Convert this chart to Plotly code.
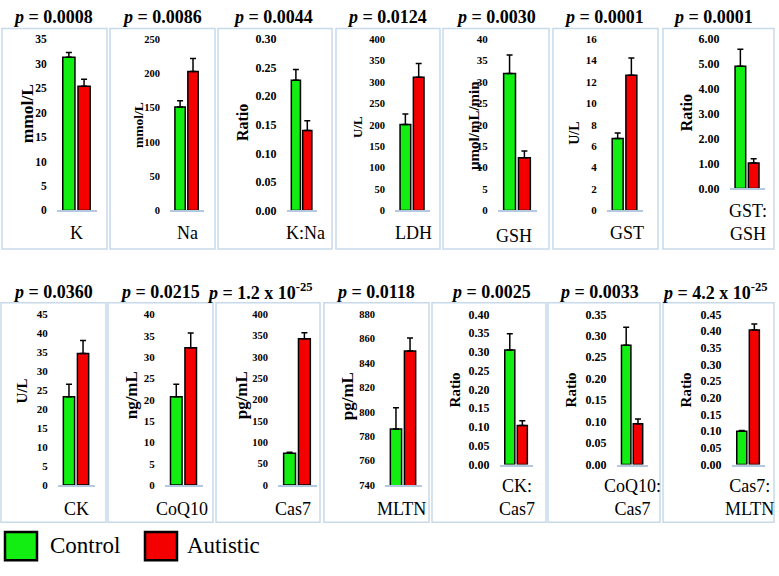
import plotly.graph_objects as go

W, H = 779, 576

# ---------------- data ----------------
labels = ["K", "Na", "K:Na", "LDH", "GSH", "GST", "GST:<br>GSH",
          "CK", "CoQ10", "Cas7", "MLTN", "CK:<br>Cas7", "CoQ10:<br>Cas7", "Cas7:<br>MLTN"]
units = ["mmol/L", "mmol/L", "Ratio", "U/L", "µmol/mL/min", "U/L", "Ratio",
         "U/L", "ng/mL", "pg/mL", "pg/mL", "Ratio", "Ratio", "Ratio"]
p_values = ["0.0008", "0.0086", "0.0044", "0.0124", "0.0030", "0.0001", "0.0001",
            "0.0360", "0.0215", "1.2 x 10<sup>-25</sup>", "0.0118", "0.0025", "0.0033",
            "4.2 x 10<sup>-25</sup>"]
control_mean = [31.3, 151, 0.228, 201, 32.0, 6.73, 4.91, 23.3, 20.7, 74.7, 786, 0.305, 0.278, 0.100]
control_err = [1.0, 9, 0.019, 24, 4.3, 0.51, 0.69, 3.3, 2.9, 2.3, 17.5, 0.043, 0.042, 0.002]
autistic_mean = [25.4, 203, 0.140, 311, 12.3, 12.64, 1.02, 34.7, 32.2, 342.9, 850, 0.104, 0.095, 0.403]
autistic_err = [1.4, 19, 0.017, 32, 1.6, 1.6, 0.17, 3.4, 3.4, 13.7, 10.7, 0.013, 0.011, 0.018]
y_min = [0, 0, 0, 0, 0, 0, 0, 0, 0, 0, 740, 0, 0, 0]
y_max = [35, 250, 0.30, 400, 40, 16, 6, 45, 40, 400, 880, 0.40, 0.35, 0.45]
y_dtick = [5, 50, 0.05, 50, 5, 2, 1, 5, 5, 50, 20, 0.05, 0.05, 0.05]
y_format = ["d", "d", ".2f", "d", "d", "d", ".2f", "d", "d", "d", "d", ".2f", ".2f", ".2f"]
groups = ["Control", "Autistic"]

# ---------------- layout geometry (pixels) ----------------
plot_x = [(57, 97), (170, 204), (287, 317), (395, 430), (498, 537), (607, 643), (730, 765),
          (58, 95), (165, 203), (278, 317), (385, 422), (500, 533), (617, 648), (732, 765)]
plot_y = [(33, 208.5)] * 6 + [(33, 186)] + [(315, 490)] * 4 + [(315, 469)] * 3
tick_size = [11.5, 10.5, 12, 10.5, 11, 11, 12, 11, 11, 10.5, 10.5, 12, 12, 12]
title_pos = [(27, 110), (138, 121), (242, 119), (357, 123), (474, 122), (575, 130), (686, 109),
             (22, 394), (131, 398), (241, 398), (347, 399), (455, 393), (571, 393), (686, 393)]
title_size = [17.5, 13.5, 16, 13, 15, 14, 16, 15, 17, 17, 17, 15, 15, 15]
label_pos = [(76, 232), (187, 232), (305, 232), (414, 232), (514, 235), (627, 232), (748, 221),
             (76, 514), (182, 514), (293, 514), (401, 514), (517, 503), (632, 503), (749, 503)]
pval_pos = [(53, 10), (162, 10), (273, 10), (387, 10), (496, 10), (604, 10), (713, 10),
            (53, 292), (160, 292), (260, 292), (375, 292), (491, 292), (599, 292), (715, 292)]
boxes = [(2, 22, 107, 248), (110, 22, 215, 248), (218, 22, 332, 248), (336, 22, 440, 248),
         (443, 22, 549, 248), (553, 22, 658, 248), (663, 22, 774, 248),
         (1, 303, 106, 528), (108, 303, 213, 528), (216, 303, 320, 528), (324, 303, 429, 528),
         (432, 303, 546, 528), (548, 303, 660, 528), (663, 303, 774, 528)]

GREEN = "#12ee12"
RED = "#f50000"
BOX = "#c8d9ea"
SERIF = "Liberation Serif"


def px(x):
    return x / W


def py(y):
    return 1 - y / H


fig = go.Figure()
annotations = []
shapes = []

for i in range(14):
    n = i + 1
    xn = "x" if n == 1 else f"x{n}"
    yn = "y" if n == 1 else f"y{n}"
    fig.add_trace(go.Bar(
        x=[0, 1], y=[control_mean[i], autistic_mean[i]],
        width=0.8,
        marker=dict(color=[GREEN, RED], line=dict(color="black", width=1.5)),
        error_y=dict(type="data", symmetric=False,
                     array=[control_err[i], autistic_err[i]], arrayminus=[0, 0],
                     color="black", thickness=1.5, width=3),
        customdata=groups, hovertemplate="%{customdata}: %{y}<extra></extra>",
        xaxis=xn, yaxis=yn, showlegend=False,
    ))
    x0, x1 = plot_x[i]
    yt, yb = plot_y[i]
    fig.layout[f"xaxis{n}"] = dict(
        domain=[px(x0), px(x1)], range=[-0.78, 1.85], anchor=yn,
        showticklabels=False, showgrid=False, zeroline=False, ticks="",
        showline=True, linecolor="#b4c8e0", linewidth=2, fixedrange=True)
    fig.layout[f"yaxis{n}"] = dict(
        domain=[py(yb), py(yt)], range=[y_min[i], y_max[i]], anchor=xn,
        tick0=y_min[i], dtick=y_dtick[i], tickformat=y_format[i],
        showgrid=False, zeroline=False, showline=False,
        ticks="outside", ticklen=7, tickcolor="rgba(0,0,0,0)",
        tickfont=dict(family=SERIF, size=tick_size[i], color="black", weight="bold"),
        fixedrange=True)

    tx, ty = title_pos[i]
    annotations.append(dict(x=px(tx), y=py(ty), xref="paper", yref="paper", text=units[i],
                            textangle=-90, showarrow=False, xanchor="center", yanchor="middle",
                            font=dict(family=SERIF, size=title_size[i], color="black", weight="bold")))
    lx, ly = label_pos[i]
    annotations.append(dict(x=px(lx), y=py(ly), xref="paper", yref="paper", text=labels[i],
                            showarrow=False, xanchor="center", yanchor="middle",
                            font=dict(family=SERIF, size=18, color="black")))
    vx, vy = pval_pos[i]
    annotations.append(dict(x=px(vx), y=py(vy), xref="paper", yref="paper",
                            text="<i>p</i> = " + p_values[i],
                            showarrow=False, xanchor="center", yanchor="middle",
                            font=dict(family=SERIF, size=18, color="black", weight="bold")))
    bx0, by0, bx1, by1 = boxes[i]
    shapes.append(dict(type="rect", xref="paper", yref="paper",
                       x0=px(bx0), x1=px(bx1), y0=py(by1), y1=py(by0),
                       line=dict(color=BOX, width=1.5), fillcolor="rgba(0,0,0,0)", layer="below"))

# legend
legend_colors = [GREEN, RED]
legend_box_x = [5, 145]
legend_text_x = [48, 185]
for k in range(2):
    shapes.append(dict(type="rect", xref="paper", yref="paper",
                       x0=px(legend_box_x[k]), x1=px(legend_box_x[k] + 32),
                       y0=py(567), y1=py(538),
                       line=dict(color="black", width=2.5), fillcolor=legend_colors[k]))
    annotations.append(dict(x=px(legend_text_x[k]), y=py(552), xref="paper", yref="paper",
                            text=groups[k], showarrow=False, xanchor="left", yanchor="middle",
                            font=dict(family=SERIF, size=23, color="black")))

fig.update_layout(
    width=W, height=H, margin=dict(l=0, r=0, t=0, b=0),
    paper_bgcolor="white", plot_bgcolor="white",
    annotations=annotations, shapes=shapes, showlegend=False,
)

fig.write_html("out.html", config={"displayModeBar": False},
               post_script="document.body.style.margin='0';document.body.style.overflow='hidden';")
